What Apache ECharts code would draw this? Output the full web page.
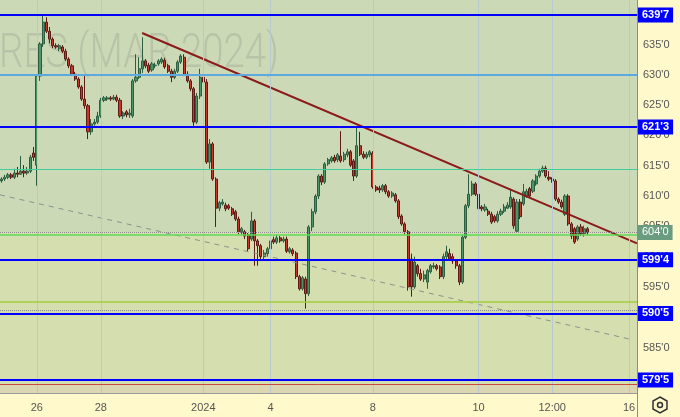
<!DOCTYPE html>
<html>
<head>
<meta charset="utf-8">
<script src="https://cdn.jsdelivr.net/npm/echarts@6.0.0/dist/echarts.min.js"></script>
<style>
  html, body { margin: 0; padding: 0; background: #fff9cc; }
  #chart { width: 680px; height: 417px; }
</style>
</head>
<body>
<div id="chart"></div>
<script>
// candles (price in cents)
var opens = [
  612.5, 612.8, 613.1, 613.5, 613.1, 613.8, 613.6, 614.1, 613.8, 614.1,
  617.1, 615.1, 629.8, 635.1, 638.7, 637.2, 635.9, 634.8, 634.3, 634.6,
  633.9, 632.6, 631.5, 630.1, 629.3, 628.0, 626.0, 624.9, 620.6, 621.9,
  622.2, 623.2, 625.8, 626.0, 626.2, 626.0, 626.3, 625.8, 623.2, 623.9,
  623.4, 623.2, 629.0, 629.6, 631.0, 632.3, 631.6, 630.8, 631.5, 631.8,
  632.1, 632.4, 631.5, 630.6, 629.6, 630.6, 632.1, 632.9, 630.1, 629.0,
  627.7, 622.2, 626.5, 629.6, 628.8, 615.6, 618.6, 612.8, 608.0, 608.7,
  608.5, 608.4, 607.9, 607.4, 606.2, 604.1, 604.1, 603.6, 602.9, 605.9,
  602.6, 601.8, 600.0, 600.5, 601.3, 602.8, 602.4, 603.1, 602.6, 602.9,
  600.8, 601.1, 600.6, 596.7, 594.7, 596.3, 593.9, 604.9, 607.4, 610.0,
  613.3, 612.3, 615.3, 615.8, 616.4, 616.0, 616.6, 616.0, 616.8, 617.3,
  615.8, 613.3, 618.3, 616.9, 616.4, 616.8, 617.1, 611.5, 611.3, 611.0,
  611.7, 610.7, 610.0, 610.2, 609.2, 606.7, 605.4, 604.1, 599.6, 595.0,
  598.5, 597.2, 596.3, 595.8, 597.5, 598.3, 598.5, 598.3, 596.7, 600.0,
  600.5, 600.0, 599.3, 598.5, 595.8, 603.2, 608.4, 610.3, 612.0, 610.3,
  608.2, 607.7, 607.5, 607.0, 606.6, 605.9, 607.0, 607.5, 608.0, 608.2,
  609.5, 604.2, 609.0, 608.7, 610.0, 611.2, 610.8, 612.0, 613.3, 614.1,
  614.6, 613.1, 612.8, 612.5, 609.5, 609.0, 607.0, 610.0, 605.4, 604.6,
  602.9, 604.9, 603.8, 604.6
];
var closes = [
  612.8, 613.1, 613.5, 613.1, 613.8, 613.6, 614.1, 613.8, 614.1, 616.4,
  616.4, 629.8, 635.1, 638.7, 637.2, 635.9, 634.8, 634.6, 634.8, 633.9,
  632.6, 631.5, 630.1, 629.3, 628.0, 626.0, 624.9, 620.6, 621.9, 622.2,
  623.2, 625.8, 626.2, 626.2, 626.0, 626.3, 625.8, 623.2, 623.7, 623.4,
  623.7, 629.0, 629.6, 631.0, 632.3, 631.5, 630.6, 631.8, 631.6, 632.3,
  632.6, 631.3, 630.6, 629.6, 630.6, 632.1, 633.1, 630.1, 629.0, 627.7,
  622.2, 626.5, 629.6, 628.8, 615.6, 618.6, 612.8, 608.0, 608.9, 609.0,
  607.9, 608.0, 607.0, 606.2, 604.1, 604.6, 603.4, 601.3, 605.9, 602.6,
  601.8, 600.0, 600.6, 601.3, 602.6, 602.4, 603.1, 602.6, 602.9, 600.9,
  601.3, 600.5, 596.7, 594.7, 596.5, 593.9, 604.9, 607.4, 610.0, 613.3,
  612.3, 615.3, 616.0, 616.3, 615.8, 616.8, 615.8, 616.9, 617.3, 615.1,
  613.3, 618.3, 616.9, 616.4, 616.9, 617.3, 611.5, 611.0, 611.0, 611.7,
  610.7, 610.0, 610.5, 609.2, 606.6, 605.4, 604.1, 595.0, 595.0, 599.1,
  597.2, 596.3, 597.0, 597.7, 598.5, 598.5, 598.0, 596.7, 600.0, 600.8,
  599.6, 599.3, 598.5, 595.8, 603.2, 608.4, 610.3, 612.0, 610.3, 607.9,
  607.9, 608.2, 607.0, 605.7, 605.9, 607.0, 607.5, 608.2, 608.5, 609.8,
  605.1, 609.0, 606.6, 610.7, 610.8, 610.0, 612.5, 613.3, 614.1, 614.6,
  613.3, 612.8, 612.5, 609.5, 609.0, 608.2, 610.0, 605.4, 603.4, 602.4,
  604.9, 603.8, 604.6, 604.0
];
var lows = [
  612.2, 612.5, 612.8, 612.8, 612.8, 613.1, 613.5, 613.1, 613.5, 613.8,
  615.8, 611.7, 629.0, 634.6, 636.9, 635.2, 634.4, 634.3, 633.9, 633.6,
  632.3, 631.1, 629.8, 629.0, 627.7, 625.7, 624.4, 619.4, 620.1, 621.6,
  621.9, 622.9, 625.5, 625.7, 625.7, 625.8, 625.5, 622.9, 622.7, 623.0,
  622.9, 622.9, 628.7, 629.3, 630.3, 631.1, 630.3, 630.5, 631.1, 631.5,
  631.8, 631.0, 630.3, 628.8, 629.3, 630.3, 631.8, 629.8, 628.7, 627.3,
  621.6, 621.9, 626.0, 628.5, 615.3, 614.5, 612.5, 604.9, 607.5, 608.4,
  607.5, 607.7, 606.7, 605.9, 603.7, 603.7, 602.9, 600.8, 602.6, 598.5,
  598.5, 599.3, 599.3, 600.0, 601.0, 602.1, 602.1, 602.3, 602.3, 600.6,
  600.5, 600.1, 596.3, 594.4, 594.4, 591.4, 593.5, 604.2, 607.0, 609.5,
  611.8, 612.0, 615.0, 615.5, 615.5, 615.6, 615.5, 615.6, 616.4, 614.8,
  612.5, 613.0, 616.6, 616.1, 616.1, 616.4, 611.2, 610.7, 610.5, 610.7,
  610.3, 609.7, 609.7, 608.9, 606.2, 605.1, 603.7, 594.4, 593.4, 594.7,
  596.7, 596.0, 595.8, 594.7, 597.2, 598.0, 597.7, 596.3, 596.3, 599.6,
  599.3, 598.8, 598.0, 595.3, 595.5, 602.9, 608.0, 610.0, 610.0, 607.5,
  607.5, 607.4, 606.7, 605.4, 605.6, 605.6, 606.7, 607.2, 607.9, 607.9,
  604.6, 603.9, 606.2, 608.4, 609.7, 609.7, 610.5, 611.7, 613.0, 613.8,
  613.0, 612.5, 612.2, 609.2, 608.7, 607.9, 606.7, 605.1, 602.9, 602.1,
  602.6, 603.4, 603.3, 603.6
];
var highs = [
  613.1, 613.5, 613.8, 613.8, 614.5, 614.8, 616.6, 615.1, 614.8, 616.8,
  618.1, 630.1, 635.4, 639.7, 639.5, 637.9, 636.2, 635.2, 635.1, 634.9,
  634.3, 632.9, 631.8, 630.5, 629.6, 628.3, 629.8, 625.2, 622.7, 622.7,
  623.9, 626.2, 626.5, 626.5, 626.5, 626.7, 626.7, 626.2, 624.0, 624.2,
  624.4, 629.3, 633.4, 632.9, 636.2, 632.6, 632.0, 632.1, 632.0, 632.6,
  632.9, 632.8, 631.8, 631.0, 631.0, 632.4, 633.4, 633.4, 630.6, 629.3,
  628.0, 627.0, 631.0, 630.6, 629.3, 619.4, 618.9, 613.1, 609.2, 609.5,
  608.9, 608.7, 608.2, 607.7, 606.6, 604.9, 604.4, 603.9, 607.4, 606.2,
  602.9, 602.1, 601.1, 601.6, 604.6, 603.3, 603.6, 603.4, 603.3, 603.3,
  601.6, 601.4, 600.9, 597.0, 596.8, 596.7, 605.2, 607.9, 610.3, 613.6,
  613.6, 615.6, 616.3, 616.6, 616.8, 617.1, 620.7, 617.3, 617.8, 617.6,
  616.1, 621.4, 620.6, 617.4, 617.3, 617.6, 617.4, 611.8, 611.7, 612.0,
  612.0, 611.0, 610.8, 610.5, 609.5, 607.0, 605.7, 604.4, 600.5, 600.0,
  598.8, 598.0, 597.7, 598.0, 598.8, 599.0, 598.8, 598.6, 600.5, 601.8,
  601.3, 600.5, 599.6, 598.8, 603.6, 608.7, 613.6, 612.5, 612.3, 610.7,
  608.5, 608.7, 607.9, 607.4, 606.9, 607.5, 607.9, 608.7, 609.0, 611.2,
  609.8, 609.5, 609.5, 612.0, 611.2, 611.5, 612.8, 613.6, 614.5, 615.0,
  615.0, 614.1, 613.1, 612.8, 609.8, 609.4, 610.3, 610.3, 605.7, 604.9,
  605.2, 605.4, 605.1, 604.9
];

// time axis: slots and where the date labels sit
var slotCount = 199;
var tickIdx = [11, 31, 63, 84, 116, 149, 172, 196];
var tickText = ['26', '28', '2024', '4', '8', '10', '12:00', '16'];

// horizontal levels drawn on the chart
var levelPrices = [639.875, 630, 621.375, 614.5, 604, 603.6, 599.5, 592.6, 591.1, 590.625, 579.625, 578.95];
var levelText = ["639'7", '', "621'3", '', "604'0", '', "599'4", '', '', "590'5", "579'5", ''];

// trend lines [slot, price]
var downTrend = [[43.9, 636.9], [198.5, 602.2]];
var dashTrend = [[-0.5, 610.2], [197, 586.3]];

var categories = [];
for (var i = 0; i < slotCount; i++) categories.push(String(i));
var candles = opens.map(function (o, i) {
  return [o, closes[i], lows[i], highs[i]];
});

var blue = { color: '#0000ff', width: 2, type: 'solid' };
var levelStyles = [
  blue,
  { color: '#5ea8e0', width: 2, type: 'solid' },
  blue,
  { color: '#3fcf9c', width: 1, type: 'solid' },
  { color: '#8a8a8a', width: 1, type: 'dotted' },
  { color: '#5fd85a', width: 1.5, type: 'solid' },
  blue,
  { color: '#a2cc3a', width: 1.5, type: 'solid' },
  { color: '#8a8a8a', width: 1, type: 'dotted' },
  blue,
  blue,
  { color: '#cc4b3c', width: 1, type: 'solid' }
];

var levelLines = levelPrices.map(function (p, i) {
  var txt = levelText[i];
  return {
    yAxis: p,
    lineStyle: levelStyles[i],
    label: {
      show: txt !== '',
      position: 'end',
      distance: 1,
      formatter: txt,
      color: '#ffffff',
      fontSize: 11,
      fontWeight: txt === "604'0" ? 'normal' : 'bold',
      fontFamily: 'Liberation Sans',
      backgroundColor: txt === "604'0" ? '#6a9c7f' : '#0000ff',
      padding: [2, 4, 2, 4]
    }
  };
});

var chart = echarts.init(document.getElementById('chart'));
chart.setOption({
  animation: false,
  backgroundColor: '#fff9cc',
  grid: { left: 0, right: 43, top: 0, bottom: 24 },
  xAxis: [
    {
      type: 'category',
      data: categories,
      boundaryGap: true,
      axisLine: { lineStyle: { color: '#9a9a9a', width: 2 } },
      axisTick: { show: false },
      splitLine: { show: false },
      axisLabel: {
        interval: function (idx) { return tickIdx.indexOf(idx) >= 0; },
        formatter: function (v, idx) {
          var k = tickIdx.indexOf(idx);
          return k >= 0 ? tickText[k] : '';
        },
        color: '#555',
        fontSize: 11,
        fontFamily: 'Liberation Sans',
        margin: 9
      }
    },
    { type: 'value', min: -0.5, max: slotCount - 0.5, show: false }
  ],
  yAxis: {
    type: 'value',
    position: 'right',
    min: 577.5,
    max: 642.35,
    minInterval: 5,
    maxInterval: 5,
    axisLine: { show: false },
    axisTick: { show: false },
    axisLabel: {
      color: '#555',
      fontSize: 11,
      fontFamily: 'Liberation Sans',
      margin: 6,
      showMinLabel: false,
      showMaxLabel: false,
      formatter: function (v) { return v % 5 === 0 ? v + "'0" : ''; }
    },
    splitLine: { lineStyle: { color: '#b8cace', width: 1 } }
  },
  graphic: [
    {
      type: 'text', x: -1, y: 31, scaleX: 0.8, z: 1.5,
      style: {
        text: 'RES (MAR 2024)',
        font: '300 48px Roboto',
        fill: 'rgba(120,128,120,0.24)',
        verticalAlign: 'top'
      }
    },
    {
      type: 'line', z: 10,
      shape: { x1: 637.5, y1: 0, x2: 637.5, y2: 417 },
      style: { stroke: '#8c8c8c', lineWidth: 1 }
    },
    {
      type: 'polygon', z: 10,
      shape: { points: [[660, 397], [667, 401], [667, 409], [660, 413], [653, 409], [653, 401]] },
      style: { fill: 'none', stroke: '#333', lineWidth: 1.5 }
    },
    {
      type: 'circle', z: 10,
      shape: { cx: 660, cy: 405, r: 2.5 },
      style: { fill: 'none', stroke: '#333', lineWidth: 1.5 }
    }
  ],
  series: [
    {
      name: 'bands', type: 'line', xAxisIndex: 1, data: [], z: -1, silent: true,
      markArea: {
        silent: true,
        data: [
          [{ yAxis: 604, itemStyle: { color: '#ccd9b6' } }, { yAxis: 642.35 }],
          [{ yAxis: 579, itemStyle: { color: '#d5deaf' } }, { yAxis: 604 }],
          [{ yAxis: 577.5, itemStyle: { color: '#dcd6b3' } }, { yAxis: 579 }]
        ]
      }
    },
    {
      name: 'vgrid', type: 'line', xAxisIndex: 1, data: [], z: 0, silent: true,
      markLine: {
        silent: true,
        symbol: ['none', 'none'],
        label: { show: false },
        lineStyle: { color: '#b8cace', width: 1, type: 'solid' },
        data: tickIdx.map(function (t) { return { xAxis: t }; })
      }
    },
    {
      name: 'price', type: 'candlestick', data: candles, barWidth: 2.6, z: 2,
      itemStyle: {
        color: '#4b9568', color0: '#c9372c',
        borderColor: '#2d5e40', borderColor0: '#5e1a15', borderWidth: 1
      },
      markLine: {
        silent: true,
        symbol: ['none', 'none'],
        data: levelLines
      }
    },
    {
      name: 'trend', type: 'line', xAxisIndex: 1, data: downTrend, z: 3,
      symbol: 'none', silent: true,
      lineStyle: { color: '#8b1a1a', width: 2 }
    },
    {
      name: 'trend2', type: 'line', xAxisIndex: 1, data: dashTrend, z: 3,
      symbol: 'none', silent: true,
      lineStyle: { color: '#8f8f8f', width: 1, type: [5, 5] }
    }
  ]
});
</script>
</body>
</html>
